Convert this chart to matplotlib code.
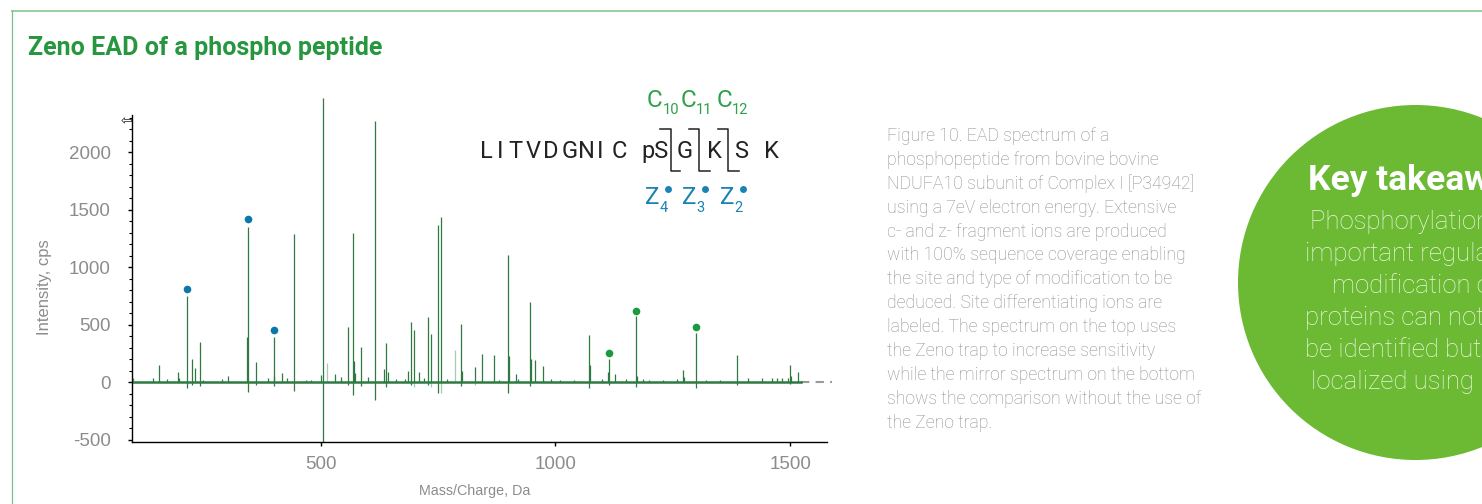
import matplotlib
matplotlib.use("Agg")
import matplotlib.pyplot as plt
from matplotlib.patches import Circle
from matplotlib.ticker import MultipleLocator

plt.rcParams["axes.unicode_minus"] = False

# ---------------- data ----------------
peak_mz = [100, 144, 156, 174, 197, 199, 216, 227, 233, 244, 250, 290, 302, 344, 345, 362,
           388, 400, 401, 418, 428, 444, 470, 480, 500, 506, 531, 544, 559, 569, 572, 574,
           587, 602, 616, 636, 640, 643, 660, 680, 687, 692, 700, 709, 720, 729, 736, 751,
           757, 770, 799, 801, 829, 844, 870, 880, 900, 902, 917, 920, 946, 948, 957, 974,
           990, 1010, 1040, 1072, 1074, 1100, 1113, 1115, 1127, 1150, 1171, 1174, 1186,
           1200, 1230, 1260, 1272, 1274, 1299, 1320, 1350, 1387, 1410, 1440, 1461, 1472,
           1483, 1495, 1500, 1502, 1517]
peak_int = [35, 40, 150, 30, 95, 40, 748, 208, 122, 356, 25, 30, 55, 393, 1354, 174,
            35, 55, 393, 86, 35, 1293, 20, 25, 64, 2474, 70, 50, 486, 1302, 191, 81,
            307, 50, 2274, 120, 344, 95, 30, 30, 104, 524, 454, 90, 35, 573, 425, 1366,
            1441, 30, 512, 100, 136, 252, 243, 25, 1111, 230, 78, 30, 697, 200, 194, 145,
            30, 25, 20, 417, 150, 30, 90, 200, 78, 30, 576, 60, 30,
            25, 20, 30, 113, 50, 434, 25, 20, 243, 35, 40, 40, 40,
            40, 40, 156, 60, 87]

mirror_mz = [216, 227, 244, 345, 362, 401, 444, 506, 559, 569, 587, 616, 640, 692, 729,
             751, 799, 900, 946, 1072, 1115, 1171, 1299, 1387, 1500]
mirror_int = [-50, -20, -30, -84, -20, -30, -75, -520, -25, -107, -30, -153, -40, -20, -20,
              -90, -30, -87, -30, -45, -20, -40, -45, -25, -15]

faint_mz = [514, 700, 736, 757, 787, 829]
faint_int = [168, -40, -40, -90, 286, -20]

z_ion_mz = [216, 345, 401]
z_ion_int = [816, 1426, 457]
c_ion_mz = [1115, 1171, 1299]
c_ion_int = [254, 622, 486]

baseline_mz = [100, 1522]
tail_mz = [1522, 1590]

x_ticks = [500, 1000, 1500]
y_ticks = [-500, 0, 500, 1000, 1500, 2000]

caption_lines = [
    "Figure 10. EAD spectrum of a",
    "phosphopeptide from bovine bovine",
    "NDUFA10 subunit of Complex I [P34942]",
    "using a 7eV electron energy. Extensive",
    "c- and z- fragment ions are produced",
    "with 100% sequence coverage enabling",
    "the site and type of modification to be",
    "deduced. Site differentiating ions are",
    "labeled. The spectrum on the top uses",
    "the Zeno trap to increase sensitivity",
    "while the mirror spectrum on the bottom",
    "shows the comparison without the use of",
    "the Zeno trap.",
]
takeaway_lines = [
    "Phosphorylation is an",
    "important regulatory",
    "modification of",
    "proteins can not only",
    "be identified but also",
    "localized using EAD.",
]
residues = ["L", "I", "T", "V", "D", "G", "N", "I", "C", "pS", "G", "K", "S", "K"]
c_labels = ["10", "11", "12"]
z_labels = ["4", "3", "2"]

# ---------------- styles ----------------
W, H = 1482, 504
LINE = "#2f7a43"
FAINT = "#a9c9b0"
BLUE = "#0a78a8"
GREEN_DOT = "#1e9a3e"
TITLE_G = "#26963f"
GRAY = "#8c8c8c"
CIRCLE = "#6cb934"
CCOL = "#2da048"
ZCOL = "#1a82b4"

fig = plt.figure(figsize=(W / 100, H / 100), dpi=100)

# overlay axes in pixel coordinates for page decoration
ov = fig.add_axes([0, 0, 1, 1], zorder=0)
ov.set_xlim(0, W)
ov.set_ylim(H, 0)
ov.axis("off")

ov.plot([11, W], [11, 11], color="#8fcc9f", lw=1.3, solid_capstyle="butt")
ov.plot([11.5, 11.5], [11, H], color="#7dbb8b", lw=0.9)

ov.text(28, 55, "Zeno EAD of a phospho peptide", color=TITLE_G, fontsize=18,
        fontweight="bold", family="Roboto", ha="left", va="baseline")

ov.text(126, 121, "\u21e6", fontsize=10, ha="center", va="center", color="#222222",
        family="DejaVu Sans")

# caption
for i, ln in enumerate(caption_lines):
    ov.text(887, 136 + i * 23.9, ln, color="#8e8e8e", fontsize=12.7, family="Roboto",
            fontweight="light", ha="left", va="center")

# takeaway circle
ov.add_patch(Circle((1415.5, 282.5), 177.5, color=CIRCLE, lw=0))
ov.text(1308, 190, "Key takeaways", color="white", fontsize=25.5, fontweight="bold",
        family="Roboto", ha="left", va="baseline")
starts = [1310, 1305, 1332, 1305, 1305, 1311]
for i, (ln, sx) in enumerate(zip(takeaway_lines, starts)):
    ov.text(sx, 222 + i * 31.9, ln, color="#eaf5df", fontsize=18.5, fontweight="light",
            family="Roboto", ha="left", va="center")

# peptide sequence
res_x = [486.3, 500, 515, 533.3, 550.7, 569.3, 586, 600, 619.3, 655, 685, 714.3, 741, 771]
for r, x in zip(residues, res_x):
    ov.text(x, 158.3, r, color="#222222", fontsize=17, family="Roboto",
            fontweight="normal", ha="center", va="baseline")
for xl, xv, xr in [(660, 670.5, 680), (689.3, 699.3, 710), (718.3, 728.3, 739.3)]:
    ov.plot([xl, xv, xv, xr], [129.3, 129.3, 170.7, 170.7], color="#222222", lw=1.1)

for lab, cx, sx in zip(c_labels, [655, 688.3, 725], [662.7, 696, 731.7]):
    ov.text(cx, 107.3, "C", color=CCOL, fontsize=17.5, family="Roboto",
            fontweight="normal", ha="center", va="baseline")
    ov.text(sx, 114.3, lab, color=CCOL, fontsize=10.5, family="Roboto",
            fontweight="normal", ha="left", va="baseline")
for lab, zx, sx, dx in zip(z_labels, [652.5, 689.5, 727.5], [659.3, 696.7, 734],
                           [668.3, 705.3, 742.7]):
    ov.text(zx, 204, "Z", color=ZCOL, fontsize=17.5, family="Roboto",
            fontweight="normal", ha="center", va="baseline")
    ov.text(sx, 211.7, lab, color=ZCOL, fontsize=10.5, family="Roboto",
            fontweight="normal", ha="left", va="baseline")
    ov.plot([dx], [189], "o", color=ZCOL, ms=5, mew=0)

# ---------------- spectrum axes ----------------
ax = fig.add_axes([131.7 / W, 1 - 442.3 / H, (827.3 - 131.7) / W, (442.3 - 115) / H],
                  zorder=2)
ax.patch.set_alpha(0)
ax.set_xlim(98, 1579)
ax.set_ylim(-520, 2326)

ax.plot(baseline_mz, [0, 0], color=LINE, lw=1.8, zorder=2)
ax.plot(tail_mz, [0, 0], color="#9a9a9a", lw=1.5, ls=(0, (4, 3)), clip_on=False, zorder=1)
ax.vlines(faint_mz, 0, faint_int, color=FAINT, lw=0.9, zorder=1)
ax.vlines(mirror_mz, 0, mirror_int, color=LINE, lw=0.9, zorder=2)
ax.vlines(peak_mz, 0, peak_int, color=LINE, lw=0.9, zorder=3, clip_on=False)
ax.plot(z_ion_mz, z_ion_int, "o", color=BLUE, ms=5.5, mew=0, zorder=4)
ax.plot(c_ion_mz, c_ion_int, "o", color=GREEN_DOT, ms=5.5, mew=0, zorder=4)

for s in ["top", "right"]:
    ax.spines[s].set_visible(False)
ax.spines["left"].set_linewidth(1.0)
ax.spines["bottom"].set_linewidth(1.0)
ax.set_xticks(x_ticks)
ax.set_yticks(y_ticks)
ax.yaxis.set_minor_locator(MultipleLocator(100))
ax.tick_params(axis="y", which="major", length=3, width=1, pad=12, labelsize=13.5,
               labelcolor=GRAY)
ax.tick_params(axis="y", which="minor", length=2.5, width=0.8)
ax.tick_params(axis="x", which="major", length=3, width=1, pad=7, labelsize=13.5,
               labelcolor=GRAY)
for lbl in ax.get_xticklabels() + ax.get_yticklabels():
    lbl.set_family("Liberation Sans")

ov.text(45, 287, "Intensity, cps", rotation=90, color=GRAY, fontsize=12,
        family="Liberation Sans", ha="center", va="center")
ov.text(475, 491, "Mass/Charge, Da", color=GRAY, fontsize=10.3,
        family="Liberation Sans", ha="center", va="center")

fig.savefig("out.png", dpi=100)
